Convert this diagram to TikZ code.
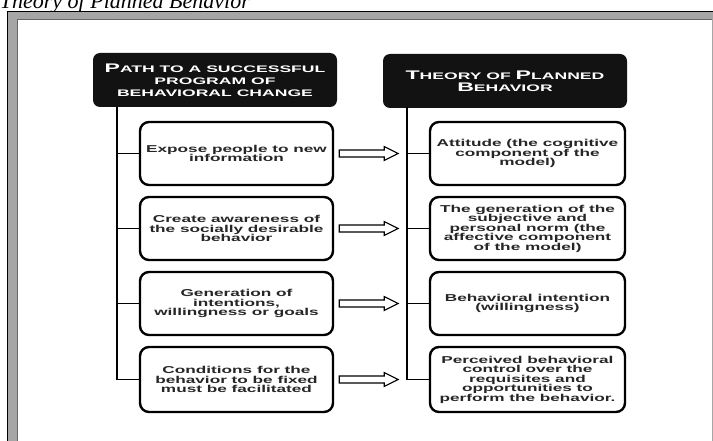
\documentclass[tikz,border=0pt]{standalone}
\usepackage{fontspec}
\setmainfont{Liberation Serif}
\newfontfamily\boxfont[FakeStretch=1.72]{Liberation Sans}
\newfontfamily\headfont[FakeStretch=1.85]{Liberation Sans}
\usetikzlibrary{calc}
\newcommand\hbig[1]{{\fontsize{12.5}{12}\selectfont #1}}
\begin{document}
\begin{tikzpicture}[x=1pt,y=-1pt,
  box/.style={draw=black, line width=2.4pt, rounded corners=9pt, minimum height=63pt,
    align=center, inner sep=0pt, fill=white, text=black!85,
    font=\boxfont\bfseries\fontsize{10}{9.5}\selectfont},
  lbox/.style={box, minimum width=193pt},
  rbox/.style={box, minimum width=195pt},
  head/.style={fill=black!93, rounded corners=7pt, minimum width=244pt, minimum height=54pt,
    align=center, text=white, inner sep=0pt,
    font=\headfont\bfseries\fontsize{9.5}{12}\selectfont},
  trunk/.style={line width=2.8pt, black},
  branch/.style={line width=1.4pt, black},
  hollow/.style={draw=black, line width=1.1pt, fill=white, line join=miter}
]
\useasboundingbox (0,0) rectangle (713,441);
\clip (0,0) rectangle (713,441);
\fill[white] (0,0) rectangle (713,441);

% title (cut off by the page edge, as in the reference)
\node[anchor=base east, inner sep=0pt, font=\itshape\fontsize{22}{22}\selectfont] (title) at (250,8.5) {Theory of Planned Behavior};

% frame
\fill[black!35] (7,11) rectangle (713,19.5);
\fill[black!35] (7,11) rectangle (17.5,441);
\draw[black, line width=1.4pt] (7.7,441) -- (7.7,11.7) -- (713,11.7);
\draw[black!60, line width=0.9pt] (17.5,441) -- (17.5,19.5) -- (713,19.5);
\draw[black!35, line width=0.9pt] (712,19.5) -- (712,441);

% headers
\node[head] (LH) at (215,80) {\hbig{P}ATH TO A SUCCESSFUL\\PROGRAM OF\\BEHAVIORAL CHANGE};
\node[head] (RH) at (505,81) {\hbig{T}HEORY OF \hbig{P}LANNED\\\hbig{B}EHAVIOR};

% left boxes
\node[lbox] (L1) at (236.5,153.5) {Expose people to new\\information};
\node[lbox] (L2) at (236.5,228.5) {Create awareness of\\the socially desirable\\behavior};
\node[lbox] (L3) at (236.5,303.5) {Generation of\\intentions,\\willingness or goals};
\node[lbox, minimum height=65pt] (L4) at (236.5,379.5) {Conditions for the\\behavior to be fixed\\must be facilitated};

% right boxes
\node[rbox] (R1) at (527.5,153.5) {Attitude (the cognitive\\component of the\\model)};
\node[rbox] (R2) at (527.5,228.5) {The generation of the\\subjective and\\personal norm (the\\affective component\\of the model)};
\node[rbox] (R3) at (527.5,303.5) {Behavioral intention\\(willingness)};
\node[rbox, minimum height=65pt] (R4) at (527.5,379.5) {Perceived behavioral\\control over the\\requisites and\\opportunities to\\perform the behavior.};

% spines
\coordinate (sL) at (117,107);
\coordinate (sR) at (407,107);
\draw[trunk] (sL) -- (sL |- L4.west);
\draw[trunk] (sR) -- (sR |- R4.west);
\foreach \i in {1,...,4}{
  \draw[branch] ([xshift=-0.5pt]sL |- L\i.west) -- (L\i.west);
  \draw[branch] ([xshift=-0.5pt]sR |- R\i.west) -- (R\i.west);
}

% hollow arrows
\foreach \i in {1,...,4}{
  \coordinate (a\i) at ($(L\i.east)+(5,0)$);
  \draw[hollow] (a\i) ++(0,-3.5) -- ++(45,0) -- ++(0,-3.5) -- ++(14,7) -- ++(-14,7)
    -- ++(0,-3.5) -- ++(-45,0) -- cycle;
}
\end{tikzpicture}
\end{document}
